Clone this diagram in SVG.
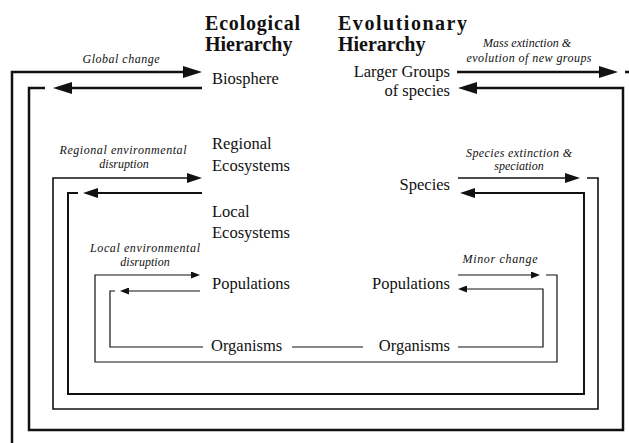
<svg xmlns="http://www.w3.org/2000/svg" width="629" height="443" viewBox="0 0 629 443">
<style>
.node{font-family:"Liberation Serif","Times New Roman",serif;font-size:16.5px;fill:#111}
.head{font-family:"Liberation Serif","Times New Roman",serif;font-size:20px;font-weight:bold;fill:#111}
.lab{font-family:"Liberation Serif","Times New Roman",serif;font-size:12px;font-style:italic;fill:#111}
.c{fill:none;stroke:#111;stroke-linejoin:miter}
.w1{stroke-width:2.5}
.w2{stroke-width:1.6}
.w2b{stroke-width:2}
.w3{stroke-width:1.2}
</style>
<defs>
<marker id="aBig" markerUnits="userSpaceOnUse" markerWidth="20" markerHeight="12" refX="8" refY="6" orient="auto"><path d="M0,0 L19,6 L0,12 z" fill="#111"/></marker>
<marker id="aMid" markerUnits="userSpaceOnUse" markerWidth="16" markerHeight="10" refX="6" refY="5" orient="auto"><path d="M0,0 L15,5 L0,10 z" fill="#111"/></marker>
<marker id="aSm" markerUnits="userSpaceOnUse" markerWidth="10" markerHeight="7" refX="4" refY="3.5" orient="auto"><path d="M0,0 L9,3.5 L0,7 z" fill="#111"/></marker>
</defs>
<rect width="629" height="443" fill="#fff"/>
<g id="connectors">
<path class="c w1" d="M12,443 V72 H191" marker-end="url(#aBig)"/>
<path class="c w1" d="M202,88 H64" marker-end="url(#aBig)"/>
<path class="c w1" d="M45,88 H29 V430 H623 V88 H469" marker-end="url(#aBig)"/>
<path class="c w1" d="M457,72 H607" marker-end="url(#aBig)"/>
<path class="c w1" d="M625,72 H629"/>
<path class="c w2" d="M587,178 H598 V409 H53 V178 H193" marker-end="url(#aMid)"/>
<path class="c w2" d="M458,178 H571" marker-end="url(#aMid)"/>
<path class="c w2b" d="M202,193 H92" marker-end="url(#aMid)"/>
<path class="c w2b" d="M78,193 H68 V394 H584 V193 H469" marker-end="url(#aMid)"/>
<path class="c w3" d="M546,275 H557 V362 H95 V275 H195" marker-end="url(#aSm)"/>
<path class="c w3" d="M458,275 H535" marker-end="url(#aSm)"/>
<path class="c w3" d="M200,291 H125" marker-end="url(#aSm)"/>
<path class="c w3" d="M115,291 H110 V347 H203"/>
<path class="c w3" d="M292,347 H363"/>
<path class="c w3" d="M458,347 H543 V289 H463" marker-end="url(#aSm)"/>
</g>
<g id="labels">
<text class="lab" x="121" y="63" text-anchor="middle" textLength="77">Global change</text>
<text class="lab" x="527" y="47" text-anchor="middle">Mass extinction &amp;</text>
<text class="lab" x="529" y="62" text-anchor="middle" textLength="125">evolution of new groups</text>
<text class="lab" x="123" y="154" text-anchor="middle" textLength="127">Regional environmental</text>
<text class="lab" x="124" y="168" text-anchor="middle">disruption</text>
<text class="lab" x="519" y="157" text-anchor="middle" textLength="106">Species extinction &amp;</text>
<text class="lab" x="519" y="170" text-anchor="middle">speciation</text>
<text class="lab" x="145" y="252" text-anchor="middle" textLength="110">Local environmental</text>
<text class="lab" x="145" y="266" text-anchor="middle">disruption</text>
<text class="lab" x="500" y="263" text-anchor="middle" textLength="75">Minor change</text>
</g>
<g id="eco-heading"><text class="head" x="205" y="30" textLength="95">Ecological</text><text class="head" x="205" y="51">Hierarchy</text></g>
<g id="evo-heading"><text class="head" x="338" y="30" textLength="129">Evolutionary</text><text class="head" x="338" y="51">Hierarchy</text></g>
<g id="biosphere"><text class="node" x="212" y="84">Biosphere</text></g>
<g id="regional-ecosystems"><text class="node" x="212" y="149">Regional</text><text class="node" x="212" y="171">Ecosystems</text></g>
<g id="local-ecosystems"><text class="node" x="212" y="217">Local</text><text class="node" x="212" y="238">Ecosystems</text></g>
<g id="eco-populations"><text class="node" x="212" y="289">Populations</text></g>
<g id="eco-organisms"><text class="node" x="211" y="351">Organisms</text></g>
<g id="larger-groups"><text class="node" x="450" y="77" text-anchor="end">Larger Groups</text><text class="node" x="450" y="96" text-anchor="end">of species</text></g>
<g id="species"><text class="node" x="450" y="190" text-anchor="end">Species</text></g>
<g id="evo-populations"><text class="node" x="450" y="289" text-anchor="end">Populations</text></g>
<g id="evo-organisms"><text class="node" x="450" y="351" text-anchor="end">Organisms</text></g>
</svg>
